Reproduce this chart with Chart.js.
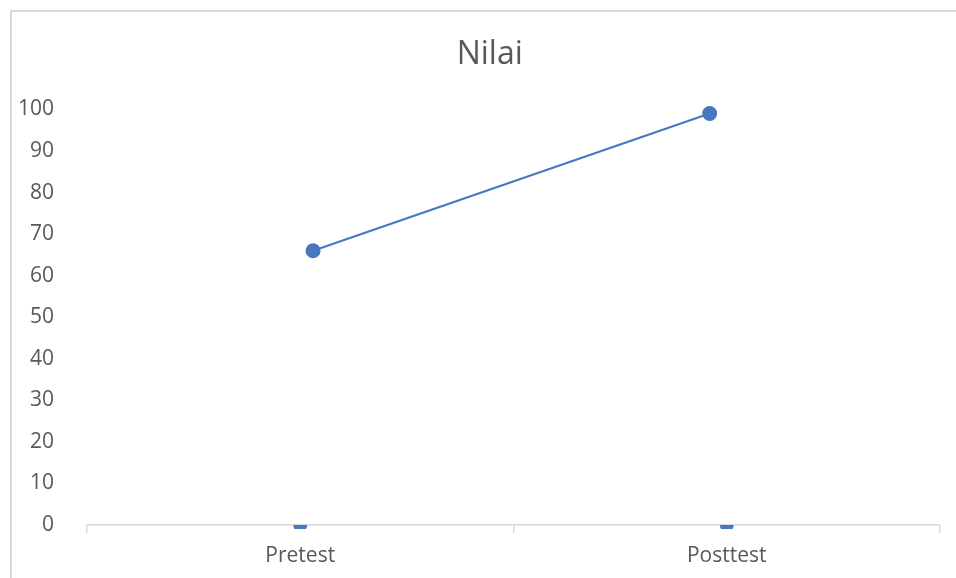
<!DOCTYPE html>
<html>
<head>
<meta charset="utf-8">
<script src="https://cdn.jsdelivr.net/npm/chart.js@4.4.1/dist/chart.umd.min.js"></script>
<style>
  html, body { margin: 0; padding: 0; background: #ffffff; overflow: hidden; }
  #wrap { position: relative; width: 956px; height: 578px; }
  #frame {
    position: absolute; left: 10px; top: 10px; width: 1000px; height: 1000px;
    border: 2px solid #d9d9d9; box-sizing: border-box; pointer-events: none;
  }
  canvas { position: absolute; left: 0; top: 0; }
</style>
</head>
<body>
<div id="wrap">
  <div id="frame"></div>
  <canvas id="nilaiChart" width="956" height="578"></canvas>
</div>
<script>
// Chart data
const categories = ["Pretest", "Posttest"];
const nilaiValues = [66, 99];
// x of each point in category units (0 = Pretest, 1 = Posttest)
const nilaiX = [0.03, 0.96];
const baseValues = [0, 0];
const yTicks = { min: 0, max: 100, step: 10 };

const textColor = "#595959";
const lineColor = "#4677bf";
const axisColor = "#d9d9d9";
const fontFamily = "'Open Sans', 'Liberation Sans', sans-serif";

function buildChart() {
    const ctx = document.getElementById("nilaiChart").getContext("2d");

    new Chart(ctx, {
        type: "line",
        data: {
            datasets: [{
                label: "Nilai",
                data: nilaiValues.map((v, i) => ({ x: nilaiX[i], y: v })),
                borderColor: lineColor,
                backgroundColor: lineColor,
                borderWidth: 2,
                pointRadius: 7.5,
                pointBackgroundColor: lineColor,
                pointBorderWidth: 0,
                tension: 0,
                clip: false
            }, {
                label: "Base",
                data: baseValues.map((v, i) => ({ x: i, y: v })),
                showLine: false,
                backgroundColor: lineColor,
                pointRadius: 7,
                pointBackgroundColor: lineColor,
                pointBorderWidth: 0,
                // only the part below the axis shows
                clip: { left: 10, right: 10, top: -415.5, bottom: 4 }
            }]
        },
        options: {
            responsive: false,
            devicePixelRatio: 1,
            animation: false,
            // title is centred on the outer frame, so the box runs past the canvas
            layout: { padding: { left: 0, right: -23.5, top: 0, bottom: 0 } },
            plugins: {
                legend: { display: false },
                tooltip: { enabled: false },
                title: {
                    display: true,
                    text: "Nilai",
                    color: textColor,
                    font: { family: fontFamily, size: 32, weight: "normal", lineHeight: 1.2 },
                    padding: { top: 36, bottom: 35 }
                }
            },
            scales: {
                x: {
                    type: "linear",
                    min: -0.5,
                    max: 1.5,
                    afterBuildTicks: scale => {
                        scale.ticks = [-0.5, 0, 0.5, 1, 1.5].map(v => ({ value: v }));
                    },
                    afterFit: scale => { scale.height = 53; },
                    grid: {
                        drawOnChartArea: false,
                        drawTicks: true,
                        tickLength: 8,
                        lineWidth: 1.5,
                        color: c => (c.tick && !Number.isInteger(c.tick.value)) ? axisColor : "rgba(0,0,0,0)"
                    },
                    border: { display: true, color: axisColor, width: 1.5 },
                    ticks: {
                        autoSkip: false,
                        maxRotation: 0,
                        padding: 10,
                        color: textColor,
                        font: { family: fontFamily, size: 21 },
                        callback: v => Number.isInteger(v) ? categories[v] : ""
                    }
                },
                y: {
                    min: yTicks.min,
                    max: yTicks.max,
                    afterFit: scale => { scale.width = 87; },
                    grid: { display: false },
                    border: { display: false },
                    ticks: {
                        stepSize: yTicks.step,
                        padding: 25,
                        color: textColor,
                        font: { family: fontFamily, size: 21 }
                    }
                },
                // empty right-hand spacer keeps the plot edge at the frame
                spacer: {
                    type: "linear",
                    position: "right",
                    afterFit: scale => { scale.width = 39.5; },
                    grid: { display: false },
                    border: { display: false },
                    ticks: { display: false }
                }
            }
        }
    });
}

buildChart();
</script>
</body>
</html>
